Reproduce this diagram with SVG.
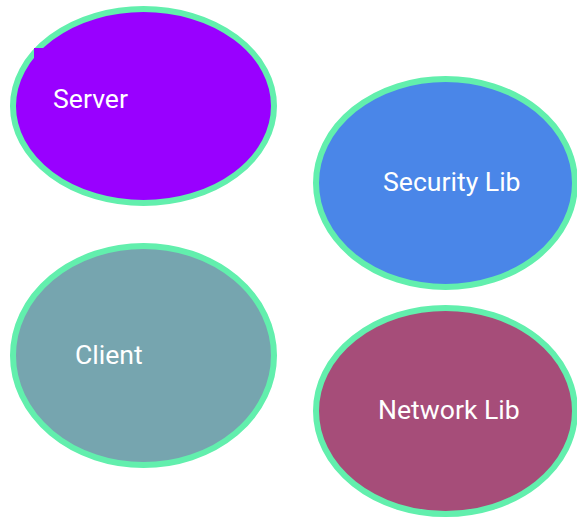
<svg xmlns="http://www.w3.org/2000/svg" width="577" height="518" viewBox="0 0 577 518">
<style>
.n{stroke:#62efad;stroke-width:6}
.t{font-family:Roboto,"Liberation Sans",sans-serif;font-size:26.6px;fill:#ffffff}
</style>
<rect width="577" height="518" fill="#ffffff"/>
<g id="server">
<ellipse class="n" cx="143.5" cy="106" rx="130.5" ry="97" fill="#9900ff"/>
<rect x="34" y="48" width="10" height="12" fill="#9900ff"/>
<text class="t" x="53" y="108">Server</text>
</g>
<g id="security">
<ellipse class="n" cx="445.5" cy="183" rx="129.5" ry="104" fill="#4a86e8"/>
<text class="t" x="383" y="191">Security Lib</text>
</g>
<g id="client">
<ellipse class="n" cx="143.5" cy="355.5" rx="130.5" ry="109.5" fill="#76a5af"/>
<text class="t" x="75" y="364">Client</text>
</g>
<g id="network">
<ellipse class="n" cx="445.5" cy="411" rx="129.5" ry="103" fill="#a64d79"/>
<text class="t" x="378" y="419">Network Lib</text>
</g>
<g id="connectors"></g>
</svg>
